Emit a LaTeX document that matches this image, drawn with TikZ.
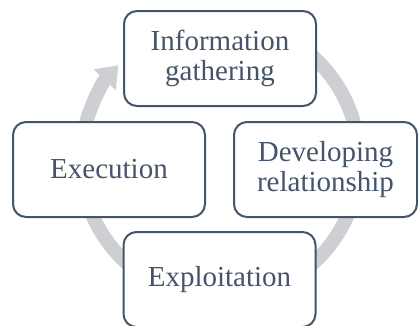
\documentclass[tikz,border=0pt]{standalone}
\usepackage[rgb]{xcolor}
\usepackage{fontspec}
\setmainfont{Liberation Serif}
\usepackage{tikz}
\usetikzlibrary{arrows.meta}

\definecolor{slate}{HTML}{44546A}
\definecolor{ringgrey}{HTML}{CDCFD3}

\tikzset{
  stage/.style={draw=slate, line width=2pt, fill=white, rounded corners=13pt,
    minimum width=192pt, minimum height=95pt, inner sep=0pt, align=center,
    text=slate, font=\fontsize{29}{30}\selectfont},
  ring/.style={ringgrey, line width=14pt, -{Triangle[width=29pt,length=20pt]}}
}

\begin{document}
\begin{tikzpicture}[x=1pt, y=1pt]

\useasboundingbox (0,0) rectangle (418,325);

%% grey cycle behind the boxes
\coordinate (ringc) at (220,165);
\draw[ring] ([shift={(75:139)}]ringc) arc[start angle=75, end angle=-223, radius=139];

%% the four stages
\path
(220,266.5) node[stage] (gathering){Information\\gathering};
\path
(109,155.5) node[stage] (execution){Execution};
\path
(325.5,155.5) node[stage, minimum width=183pt] (relationship){Developing\\relationship};
\path
(219.5,45.5) node[stage] (exploitation){Exploitation};

\end{tikzpicture}
\end{document}
